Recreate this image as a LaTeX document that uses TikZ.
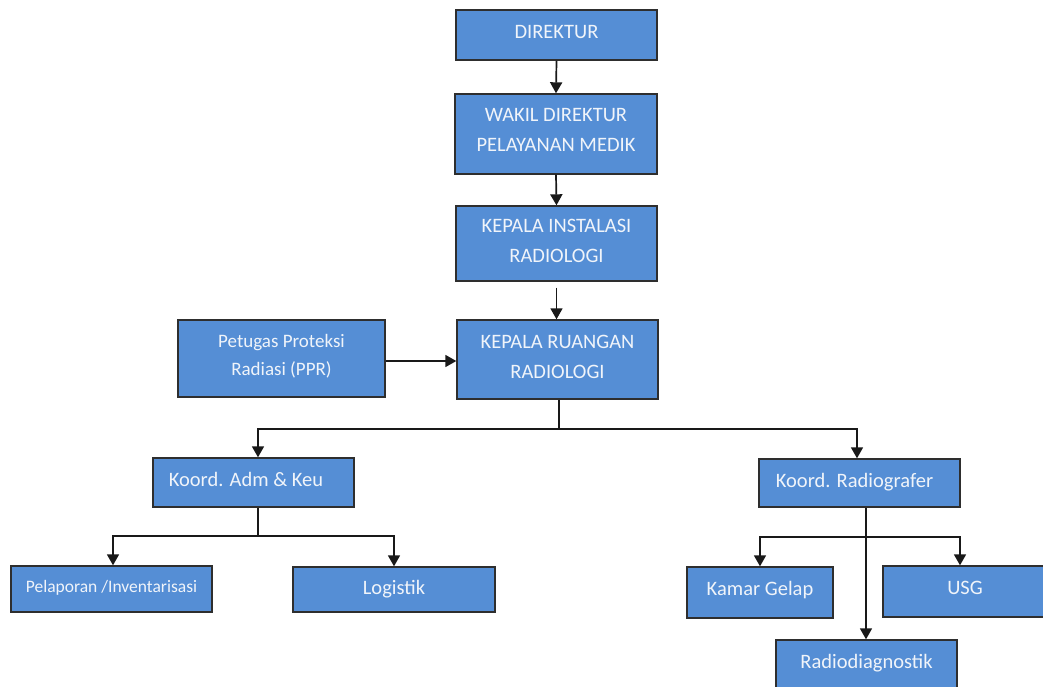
\documentclass[tikz,border=0pt]{standalone}
\usepackage{fontspec}
\setmainfont{Carlito}
\usetikzlibrary{arrows.meta,calc}
\definecolor{boxblue}{HTML}{558ED5}
\definecolor{boxline}{HTML}{2E2E2E}
\definecolor{boxtext}{HTML}{F0F4FA}
\tikzset{
  orgbox/.style={draw=boxline, line width=1.4pt, fill=boxblue, inner sep=0pt},
  orgtext/.style={text=boxtext, align=center, inner sep=0pt, text depth=0pt,
    font=\fontsize{20.5}{30}\selectfont},
  smalltext/.style={orgtext, font=\fontsize{17.5}{26}\selectfont},
  link/.style={draw=black!90, line width=1.7pt},
  arrowlink/.style={link, -{Triangle[width=12pt,length=11pt]}},
}
\begin{document}
\begin{tikzpicture}[x=1pt, y=-1pt]
\useasboundingbox (0,0) rectangle (1043,686);

% boxes (pixel grid, y grows downwards)
\node[orgbox, minimum width=201pt, minimum height=50pt] (dir)    at (556.5,35)   {};
\node[orgbox, minimum width=202pt, minimum height=80pt] (wakil)  at (556,134)    {};
\node[orgbox, minimum width=201pt, minimum height=75pt] (kinst)  at (556.5,243.5){};
\node[orgbox, minimum width=201pt, minimum height=79pt] (kruang) at (557.5,359.5){};
\node[orgbox, minimum width=207pt, minimum height=77pt] (ppr)    at (281.5,358.5){};
\node[orgbox, minimum width=201pt, minimum height=49pt] (adm)    at (253.5,482.5){};
\node[orgbox, minimum width=201pt, minimum height=48pt] (rad)    at (859.5,483)  {};
\node[orgbox, minimum width=201pt, minimum height=46pt] (pel)    at (111.5,589)  {};
\node[orgbox, minimum width=202pt, minimum height=45pt] (log)    at (394,589.5)  {};
\node[orgbox, minimum width=146pt, minimum height=51pt] (kamar)  at (760,592.5)  {};
\node[orgbox, minimum width=164pt, minimum height=51pt] (usg)    at (965,591.5)  {};
\node[orgbox, minimum width=181pt, minimum height=50pt] (diag)   at (866.5,665)  {};

% labels
\node[orgtext] (dir-t)    at ([yshift=3pt]dir.center)    {DIREKTUR};
\node[orgtext] (wakil-t)  at ([yshift=4pt]wakil.center)  {WAKIL DIREKTUR\\PELAYANAN MEDIK};
\node[orgtext] (kinst-t)  at ([yshift=3pt]kinst.center)  {KEPALA INSTALASI\\RADIOLOGI};
\node[orgtext] (kruang-t) at ([yshift=3pt]kruang.center) {KEPALA RUANGAN\\RADIOLOGI};
\node[orgtext, font=\fontsize{19}{28}\selectfont] (ppr-t) at ([yshift=4pt]ppr.center) {Petugas Proteksi\\Radiasi (PPR)};
\node[orgtext] (adm-t)    at ([xshift=-7.5pt,yshift=3pt]adm.center) {Koord. Adm \& Keu};
\node[orgtext] (rad-t)    at ([xshift=-5pt,yshift=3pt]rad.center)   {Koord. Radiografer};
\node[smalltext] (pel-t)  at ([yshift=3pt]pel.center)    {Pelaporan /Inventarisasi};
\node[orgtext] (log-t)    at ([yshift=2pt]log.center)    {Logistik};
\node[orgtext] (kamar-t)  at ([yshift=4pt]kamar.center)  {Kamar Gelap};
\node[orgtext] (usg-t)    at ([yshift=4pt]usg.center)    {USG};
\node[orgtext] (diag-t)   at ([yshift=4pt]diag.center)   {Radiodiagnostik};

% vertical chain
\draw[arrowlink] (dir.south) -- (wakil.north);
\draw[arrowlink] (wakil.south) -- (kinst.north);
\draw[arrowlink, shorten <=6pt] (kinst.south) -- (kinst.south |- kruang.north);
\draw[arrowlink] (ppr.east |- 0,361) -- (kruang.west |- 0,361);

% branch under the room head
\coordinate (kr-out) at ([xshift=1.5pt]kruang.south);
\coordinate (kr-bus) at (kr-out |- 0,429);
\coordinate (adm-in) at ([xshift=4.5pt]adm.north);
\coordinate (rad-in) at ([xshift=-2.5pt]rad.north);
\draw[link] (kr-out) -- (kr-bus);
\draw[arrowlink] (kr-bus) -| (adm-in);
\draw[arrowlink] (kr-bus) -| (rad-in);

% branch under Koord. Adm & Keu
\coordinate (adm-out) at ([xshift=4.5pt]adm.south);
\coordinate (adm-bus) at (adm-out |- 0,536);
\coordinate (pel-in)  at ([xshift=1.5pt]pel.north);
\draw[link] (adm-out) -- (adm-bus);
\draw[arrowlink] (adm-bus) -| (pel-in);
\draw[arrowlink] (adm-bus) -| (log.north);

% branch under Koord. Radiografer
\coordinate (rad-out) at ([xshift=6.5pt]rad.south);
\coordinate (rad-bus) at (rad-out |- 0,537);
\coordinate (usg-in)  at ([xshift=-5pt]usg.north);
\draw[arrowlink] (rad-out) -- (rad-out |- diag.north);
\draw[arrowlink] (rad-bus) -| (kamar.north);
\draw[arrowlink] (rad-bus) -| (usg-in);
\end{tikzpicture}
\end{document}
